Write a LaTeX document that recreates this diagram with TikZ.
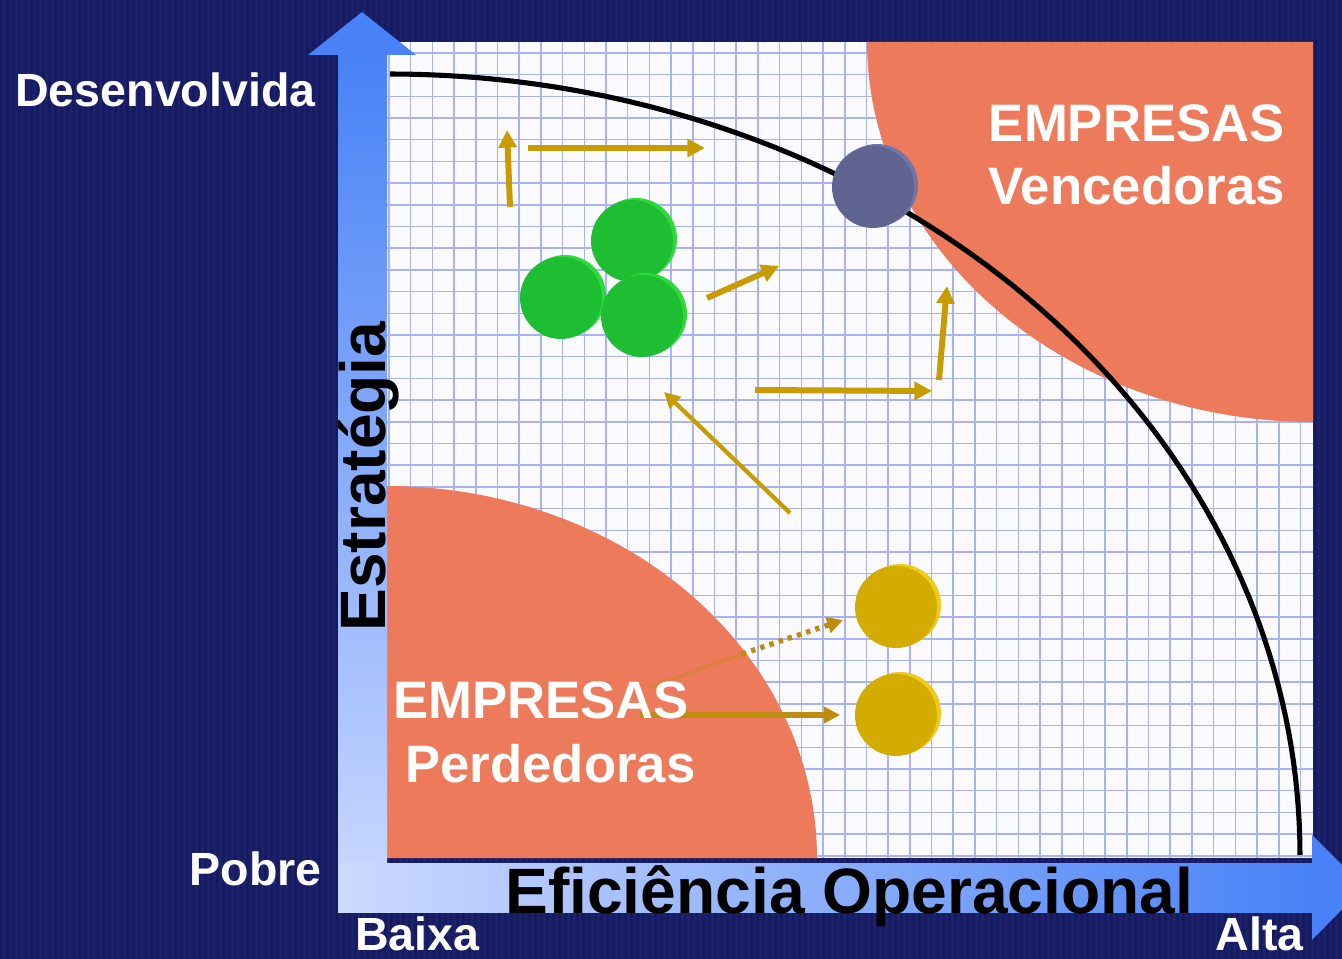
\documentclass[tikz,border=0pt]{standalone}
\usepackage{fontspec}
\setmainfont{Liberation Sans}
\usetikzlibrary{arrows.meta}
\definecolor{navy}{RGB}{27,33,110}
\definecolor{navystripe}{RGB}{22,27,96}
\definecolor{plotbg}{RGB}{251,251,255}
\definecolor{gridblue}{RGB}{168,180,242}
\definecolor{orangeR}{RGB}{237,122,90}
\definecolor{axblue}{RGB}{72,130,246}
\definecolor{axlight}{RGB}{205,218,255}
\definecolor{gold}{RGB}{200,155,0}
\definecolor{goldD}{RGB}{190,140,15}
\definecolor{greenM}{RGB}{30,190,50}
\definecolor{greenR}{RGB}{45,218,58}
\definecolor{grayM}{RGB}{95,100,145}
\definecolor{grayR}{RGB}{112,118,165}
\definecolor{yelM}{RGB}{212,172,0}
\definecolor{yelR}{RGB}{238,202,25}
\tikzset{
  goldarrow/.style={draw=gold, line width=3.4pt, -{Triangle[length=10pt,width=10pt]}},
  thinarrow/.style={draw=gold, line width=2.4pt, -{Triangle[length=9pt,width=9pt]}},
  coinnode/.style={circle, inner sep=0pt, minimum size=1.64cm},
  whitelabel/.style={inner sep=0pt, text=white, font=\fontsize{26.5}{30}\selectfont\bfseries},
  zonelabel/.style={inner sep=0pt, text=white, font=\fontsize{30}{34}\selectfont\bfseries},
  axistitle/.style={inner sep=0pt, text=black, font=\fontsize{36.5}{40}\selectfont\bfseries},
}
\newcommand\mycoin[5]{%
  \fill[#5] (#2+4,#3-2) circle[radius=0.82cm];
  \node[coinnode, fill=#4] (#1) at (#2,#3) {};}
\begin{document}
\begin{tikzpicture}[x=0.02cm, y=-0.02cm]
\useasboundingbox (0,0) rectangle (1342,959);
\begin{scope}
\clip (0,0) rectangle (1342,959);
% background
\fill[navy] (0,0) rectangle (1342,959);
\foreach \i in {0,...,223} \fill[navystripe] (\i*6,0) rectangle ++(2.5,959);
% plot area
\fill[plotbg] (387,42) rectangle (1313,858);
\begin{scope}
\clip (387,42) rectangle (1313,858);
\foreach \i in {0,...,42} \draw[gridblue, line width=0.9pt] (389+\i*21.7,42) -- ++(0,816);
\foreach \i in {0,...,37} \draw[gridblue, line width=0.9pt] (387,52.9+\i*21.7) -- ++(926,0);
% orange zones
\fill[orangeR] (1313,42) -- plot[domain=0:90, samples=60] ({1313-446*cos(\x)},{42+380*sin(\x)}) -- cycle;
\fill[orangeR] (387,858) -- plot[domain=0:90, samples=60] ({387+430*sin(\x)},{858-372*cos(\x)}) -- cycle;
% frontier curve
\draw[black, line width=2.9pt] plot[domain=0:90, samples=80] ({390+910*sin(\x)},{855-781*cos(\x)});
\end{scope}
% coins
\mycoin{gray}{873}{187}{grayM}{grayR}
\mycoin{g1}{632}{241}{greenM}{greenR}
\mycoin{g2}{561}{298}{greenM}{greenR}
\mycoin{g3}{642}{316}{greenM}{greenR}
\mycoin{y1}{896}{607}{yelM}{yelR}
\mycoin{y2}{896}{715}{yelM}{yelR}
% arrow end points
\coordinate (a1s) at (510,207); \coordinate (a1e) at (507,130);
\coordinate (a2s) at (528,148); \coordinate (a2e) at (705,148);
\coordinate (a3s) at (707,298); \coordinate (a3e) at (779,266);
\coordinate (a4s) at (755,390); \coordinate (a4e) at (932,391);
\coordinate (a5s) at (939,380); \coordinate (a5e) at (947,286);
\coordinate (a6s) at (790,513); \coordinate (a6e) at (664,392);
\coordinate (a7s) at (648,688); \coordinate (a7m) at (742,654); \coordinate (a7e) at (843,620);
\coordinate (a8s) at (640,715); \coordinate (a8e) at (840,715);
\draw[goldarrow] (a1s) -- (a1e);
\draw[goldarrow] (a2s) -- (a2e);
\draw[goldarrow] (a3s) -- (a3e);
\draw[goldarrow] (a4s) -- (a4e);
\draw[goldarrow] (a5s) -- (a5e);
\draw[thinarrow] (a6s) -- (a6e);
\draw[goldD, line width=2pt, opacity=0.35] (a7s) -- (a7m);
\draw[draw=goldD, line width=3pt, dash pattern=on 2.5pt off 3pt, -{Triangle[length=9pt,width=9pt]}] (a7m) -- (a7e);
\draw[draw=goldD, line width=3pt, -{Triangle[length=9pt,width=9pt]}] (a8s) -- (a8e);
% zone labels
\node[zonelabel, anchor=base east] (v1) at (1285,142) {EMPRESAS};
\node[zonelabel, anchor=base east] (v2) at (1285,205) {Vencedoras};
\node[zonelabel, anchor=base west] (p1) at (393,718) {EMPRESAS};
\node[zonelabel, anchor=base west] (p2) at (405,782) {Perdedoras};
% axes
\shade[top color=axblue, bottom color=axlight] (338,55) rectangle (387,912);
\fill[axblue] (308,55) -- (416,55) -- (362,12) -- cycle;
\shade[left color=axlight, right color=axblue] (338,863) rectangle (1313,912);
\fill[axblue] (1312,835) -- (1312,940) -- (1364,887) -- cycle;
\node[axistitle, rotate=90, anchor=base west] (estr) at (385,632) {Estratégia};
\node[axistitle, anchor=base west] (efic) at (505,913) {Eficiência Operacional};
% axis labels
\node[whitelabel, anchor=base west] (desenv) at (15,107) {Desenvolvida};
\node[whitelabel, anchor=base east] (pobre) at (322,885) {Pobre};
\node[whitelabel, anchor=base west] (baixa) at (355,950) {Baixa};
\node[whitelabel, anchor=base east] (alta) at (1304,950) {Alta};
\end{scope}
\end{tikzpicture}
\end{document}
